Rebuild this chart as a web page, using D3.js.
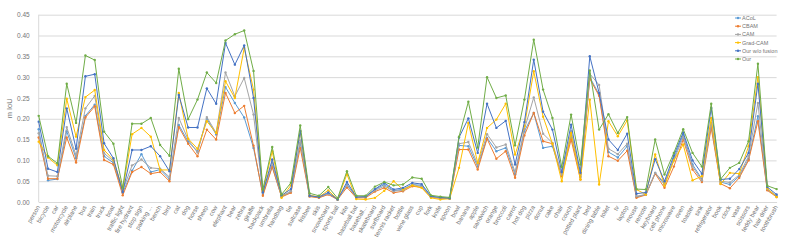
<!DOCTYPE html>
<html>
<head>
<meta charset="utf-8">
<script src="https://cdn.jsdelivr.net/npm/d3@7"></script>
<style>
  html, body { margin: 0; padding: 0; background: #fff; }
  svg { display: block; font-family: "Liberation Sans", Arial, sans-serif; }
</style>
</head>
<body>
<svg id="chart" width="789" height="240"></svg>
<script>
// categories (x axis)
const categories = ["person","bicycle","car","motorcycle","airplane","bus","train","truck","boat","traffic light",
  "fire hydrant","stop sign","parking ...","bench","bird","cat","dog","horse","sheep","cow",
  "elephant","bear","zebra","giraffe","backpack","umbrella","handbag","tie","suitcase","frisbee",
  "skis","snowboard","sports ball","kite","baseball bat","baseball...","skateboard","surfboard","tennis racket","bottle",
  "wine glass","cup","fork","knife","spoon","bowl","banana","apple","sandwich","orange",
  "broccoli","carrot","hot dog","pizza","donut","cake","chair","couch","potted plant","bed",
  "dining table","toilet","tv","laptop","mouse","remote","keyboard","cell phone","microwave","oven",
  "toaster","sink","refrigerator","book","clock","vase","scissors","teddy bear","hair drier","toothbrush"];

// series values
const acol = [0.175,0.052,0.055,0.170,0.105,0.207,0.234,0.110,0.094,0.022,
  0.075,0.115,0.072,0.078,0.055,0.185,0.145,0.122,0.200,0.162,
  0.276,0.238,0.203,0.130,0.019,0.086,0.013,0.024,0.142,0.014,
  0.011,0.019,0.006,0.042,0.011,0.011,0.030,0.042,0.027,0.031,
  0.042,0.040,0.012,0.010,0.009,0.136,0.134,0.085,0.154,0.122,
  0.130,0.066,0.170,0.214,0.130,0.134,0.064,0.160,0.060,0.300,
  0.258,0.120,0.107,0.134,0.012,0.018,0.070,0.042,0.105,0.162,
  0.090,0.055,0.185,0.048,0.042,0.062,0.103,0.206,0.030,0.014];
const cbam = [0.155,0.056,0.056,0.155,0.095,0.203,0.230,0.101,0.090,0.016,
  0.072,0.084,0.068,0.072,0.050,0.180,0.140,0.110,0.174,0.150,
  0.262,0.214,0.231,0.135,0.015,0.084,0.012,0.022,0.130,0.013,
  0.010,0.018,0.006,0.035,0.010,0.010,0.025,0.034,0.022,0.026,
  0.038,0.035,0.011,0.009,0.008,0.126,0.126,0.078,0.152,0.104,
  0.122,0.058,0.160,0.214,0.146,0.140,0.062,0.150,0.054,0.296,
  0.255,0.110,0.099,0.123,0.010,0.017,0.068,0.034,0.085,0.150,
  0.078,0.048,0.178,0.044,0.033,0.058,0.100,0.194,0.028,0.012];
const cam = [0.165,0.063,0.062,0.180,0.112,0.225,0.255,0.117,0.098,0.028,
  0.088,0.102,0.082,0.080,0.060,0.202,0.150,0.119,0.204,0.166,
  0.311,0.254,0.298,0.210,0.022,0.094,0.014,0.026,0.148,0.015,
  0.012,0.020,0.007,0.040,0.012,0.012,0.028,0.038,0.026,0.028,
  0.042,0.037,0.012,0.010,0.009,0.140,0.144,0.090,0.163,0.131,
  0.138,0.072,0.175,0.251,0.164,0.142,0.066,0.170,0.066,0.308,
  0.281,0.128,0.115,0.140,0.014,0.018,0.070,0.046,0.100,0.156,
  0.085,0.052,0.190,0.050,0.047,0.065,0.110,0.238,0.031,0.015];
const gradCam = [0.145,0.107,0.088,0.248,0.157,0.252,0.269,0.125,0.101,0.030,
  0.163,0.178,0.157,0.077,0.077,0.262,0.152,0.128,0.194,0.166,
  0.290,0.250,0.370,0.270,0.026,0.122,0.010,0.040,0.170,0.016,
  0.012,0.028,0.006,0.067,0.007,0.006,0.010,0.027,0.050,0.030,
  0.040,0.034,0.010,0.006,0.008,0.082,0.190,0.094,0.178,0.198,
  0.236,0.114,0.182,0.314,0.205,0.140,0.050,0.166,0.054,0.246,
  0.042,0.194,0.158,0.196,0.030,0.018,0.114,0.039,0.100,0.138,
  0.052,0.062,0.202,0.043,0.070,0.068,0.134,0.300,0.033,0.012];
const oursNoFusion = [0.193,0.080,0.072,0.225,0.128,0.302,0.307,0.141,0.105,0.024,
  0.125,0.125,0.134,0.110,0.074,0.257,0.179,0.179,0.273,0.236,
  0.382,0.330,0.376,0.250,0.023,0.102,0.016,0.031,0.171,0.015,
  0.012,0.023,0.006,0.048,0.012,0.013,0.031,0.046,0.030,0.034,
  0.046,0.043,0.014,0.011,0.009,0.155,0.201,0.118,0.236,0.178,
  0.195,0.090,0.192,0.342,0.217,0.174,0.072,0.186,0.070,0.350,
  0.262,0.150,0.125,0.164,0.020,0.023,0.103,0.050,0.112,0.167,
  0.100,0.068,0.226,0.054,0.056,0.079,0.118,0.284,0.036,0.018];
const ours = [0.207,0.110,0.093,0.284,0.190,0.352,0.341,0.169,0.140,0.035,
  0.188,0.188,0.202,0.137,0.111,0.320,0.199,0.246,0.311,0.286,
  0.388,0.403,0.412,0.315,0.030,0.132,0.018,0.046,0.184,0.021,
  0.015,0.036,0.009,0.074,0.015,0.015,0.037,0.048,0.040,0.042,
  0.059,0.056,0.016,0.013,0.011,0.157,0.241,0.131,0.300,0.250,
  0.256,0.136,0.246,0.390,0.270,0.202,0.084,0.210,0.090,0.316,
  0.174,0.211,0.166,0.204,0.031,0.030,0.150,0.066,0.118,0.175,
  0.118,0.085,0.236,0.055,0.082,0.094,0.146,0.332,0.039,0.031];

const seriesNames = ["ACoL", "CBAM", "CAM", "Grad-CAM", "Our w/o fusion", "Our"];
const seriesValues = [acol, cbam, cam, gradCam, oursNoFusion, ours];
const seriesColors = ["#5B9BD5", "#ED7D31", "#A5A5A5", "#FFC000", "#4472C4", "#70AD47"];
const yTicks = [0, 0.05, 0.10, 0.15, 0.20, 0.25, 0.30, 0.35, 0.40, 0.45];

const svg = d3.select("#chart");
const plotLeft = 38.7, plotRight = 776.6, plotTop = 14.7, plotBottom = 202;
const textGray = "#757575";

const x = d3.scalePoint().domain(categories).range([plotLeft, plotRight]).padding(0);
const y = d3.scaleLinear().domain([0, 0.45]).range([plotBottom, plotTop]);

// gridlines
svg.append("g")
  .attr("transform", `translate(${plotLeft},0)`)
  .call(d3.axisLeft(y).tickValues(yTicks).tickSize(-(plotRight - plotLeft)).tickFormat(""))
  .call(g => g.select(".domain").remove())
  .selectAll("line").attr("stroke", "#D9D9D9").attr("stroke-width", 1);

// y axis line
svg.append("line")
  .attr("x1", plotLeft).attr("x2", plotLeft).attr("y1", plotTop).attr("y2", plotBottom)
  .attr("stroke", "#D9D9D9");

// y tick labels
svg.append("g")
  .attr("transform", `translate(${plotLeft - 6},0)`)
  .call(d3.axisLeft(y).tickValues(yTicks).tickSize(0).tickFormat(d3.format(".2f")))
  .call(g => g.select(".domain").remove())
  .selectAll("text")
  .attr("fill", textGray).style("font-size", "6.5px");

// y axis title
svg.append("text")
  .attr("transform", `translate(12,${(plotTop + plotBottom) / 2}) rotate(-90)`)
  .attr("text-anchor", "middle")
  .attr("fill", textGray)
  .style("font-size", "7.5px")
  .text("m IoU");

// x axis labels
svg.append("g")
  .attr("transform", `translate(0,${plotBottom})`)
  .call(d3.axisBottom(x).tickSize(0))
  .call(g => g.select(".domain").attr("stroke", "#D9D9D9"))
  .selectAll("text")
  .attr("fill", textGray)
  .style("font-size", "6.2px")
  .attr("dy", null)
  .attr("y", 0)
  .attr("transform", "translate(1,5) rotate(-60)")
  .style("text-anchor", "end");

// lines + markers
const line = d3.line()
  .x((d, i) => x(categories[i]))
  .y(d => y(d));

seriesValues.forEach((vals, s) => {
  const g = svg.append("g");
  g.append("path")
    .attr("d", line(vals))
    .attr("fill", "none")
    .attr("stroke", seriesColors[s])
    .attr("stroke-width", 1);
  g.selectAll("circle")
    .data(vals)
    .enter()
    .append("circle")
    .attr("cx", (d, i) => x(categories[i]))
    .attr("cy", d => y(d))
    .attr("r", 1.2)
    .attr("fill", seriesColors[s]);
});

// legend
const legend = svg.append("g").attr("transform", "translate(735,18)");
seriesNames.forEach((name, i) => {
  const row = legend.append("g").attr("transform", `translate(0,${i * 8.2})`);
  row.append("line").attr("x1", 0).attr("x2", 6).attr("y1", 0).attr("y2", 0)
    .attr("stroke", seriesColors[i]).attr("stroke-width", 1);
  row.append("circle").attr("cx", 3).attr("cy", 0).attr("r", 1.2).attr("fill", seriesColors[i]);
  row.append("text").attr("x", 7).attr("y", 2)
    .attr("fill", textGray).style("font-size", "5.5px").text(name);
});
</script>
</body>
</html>
